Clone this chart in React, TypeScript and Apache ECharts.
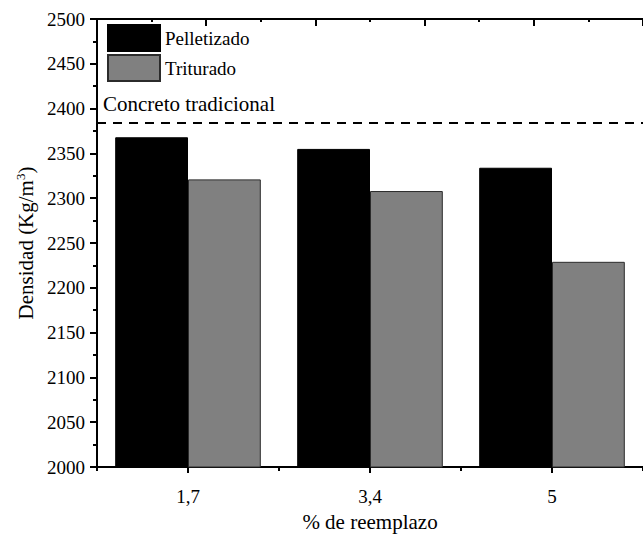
import React, { useEffect, useRef } from "react";
import * as echarts from "echarts";

const categories = ["1,7", "3,4", "5"];
const pelletizado = [2368, 2355, 2334];
const triturado = [2321, 2308, 2229];
const concretoTradicional = 2384;
const yMin = 2000;
const yMax = 2500;
const yInterval = 50;

const FONT = "Liberation Serif";

const rich19 = { t: { fontFamily: FONT, fontSize: 19, color: "#000" } };
const rich21 = { t: { fontFamily: FONT, fontSize: 21, color: "#000" } };
const wrap = (s: string | number) => `{t|${s}}`;

export default function App() {
  const ref = useRef<HTMLDivElement>(null);

  useEffect(() => {
    if (!ref.current) return;
    const chart = echarts.init(ref.current, null, { renderer: "svg" });
    const option = {
      animation: false,
      backgroundColor: "#ffffff",
      textStyle: { fontFamily: FONT, color: "#000" },
      grid: { left: 97, top: 19, right: -10, bottom: 70, containLabel: false },
      legend: {
        orient: "vertical",
        left: 107,
        top: 24,
        itemWidth: 52,
        itemHeight: 26,
        itemGap: 2,
        icon: "rect",
        padding: 0,
        formatter: (name: string) => wrap(name),
        textStyle: { fontFamily: FONT, fontSize: 19, color: "#000", rich: rich19 },
        data: ["Pelletizado", "Triturado"],
      },
      xAxis: [
        {
          type: "category",
          position: "bottom",
          data: categories,
          axisLine: { show: true, lineStyle: { color: "#000", width: 2 } },
          axisTick: { show: true, alignWithLabel: true, length: 6, lineStyle: { color: "#000", width: 2 } },
          axisLabel: {
            fontFamily: FONT,
            fontSize: 19,
            color: "#000",
            margin: 20,
            formatter: (v: string) => wrap(v),
            rich: rich19,
          },
          splitLine: { show: false },
          name: wrap("% de reemplazo"),
          nameLocation: "middle",
          nameGap: 44,
          nameTextStyle: { fontFamily: FONT, fontSize: 21, color: "#000", rich: rich21 },
        },
        {
          type: "category",
          position: "bottom",
          data: categories,
          axisLine: { show: false },
          axisTick: { show: true, length: 4, lineStyle: { color: "#000", width: 2 } },
          axisLabel: { show: false },
          splitLine: { show: false },
        },
        {
          type: "value",
          position: "top",
          min: 0,
          max: 5,
          interval: 1,
          axisLine: { show: true, lineStyle: { color: "#000", width: 2 } },
          axisTick: { show: true, inside: true, length: 7, lineStyle: { color: "#000", width: 2 } },
          minorTick: { show: true, splitNumber: 2, length: 3, lineStyle: { color: "#000", width: 2 } },
          axisLabel: { show: false },
          splitLine: { show: false },
        },
      ],
      yAxis: {
        type: "value",
        min: yMin,
        max: yMax,
        interval: yInterval,
        axisLine: { show: true, lineStyle: { color: "#000", width: 2 } },
        axisTick: { show: true, length: 7, lineStyle: { color: "#000", width: 2 } },
        minorTick: { show: true, splitNumber: 2, length: 4, lineStyle: { color: "#000", width: 2 } },
        axisLabel: {
          fontFamily: FONT,
          fontSize: 19,
          color: "#000",
          margin: 12,
          formatter: (v: number) => wrap(String(v)),
          rich: rich19,
        },
        splitLine: { show: false },
        name: "{a|Densidad (Kg/m}{s|3}{a|)}",
        nameLocation: "middle",
        nameGap: 60,
        nameRotate: 90,
        nameTextStyle: {
          fontFamily: FONT,
          fontSize: 21,
          color: "#000",
          rich: {
            a: { fontFamily: FONT, fontSize: 21, color: "#000" },
            s: { fontFamily: FONT, fontSize: 13, color: "#000", verticalAlign: "top", padding: [0, 0, 10, 0] },
          },
        },
      },
      series: [
        {
          name: "Pelletizado",
          type: "bar",
          xAxisIndex: 0,
          data: pelletizado,
          barGap: "0%",
          barCategoryGap: "20%",
          itemStyle: { color: "#000000", borderColor: "#000000", borderWidth: 1 },
          markLine: {
            silent: true,
            symbol: ["none", "none"],
            data: [{ yAxis: concretoTradicional }],
            lineStyle: { type: [9, 7], color: "#000", width: 2 },
            label: {
              show: true,
              formatter: wrap("Concreto tradicional"),
              position: "insideStartTop",
              distance: [6, 8],
              fontFamily: FONT,
              fontSize: 21,
              color: "#000",
              rich: rich21,
            },
          },
        },
        {
          name: "Triturado",
          type: "bar",
          xAxisIndex: 0,
          data: triturado,
          barGap: "0%",
          barCategoryGap: "20%",
          itemStyle: { color: "#808080", borderColor: "#2b2b2b", borderWidth: 1 },
        },
      ],
    };
    chart.setOption(option);
    return () => chart.dispose();
  }, []);

  return (
    <div
      ref={ref}
      style={{ position: "fixed", left: 0, top: 0, width: 643, height: 537, background: "#fff" }}
    />
  );
}
